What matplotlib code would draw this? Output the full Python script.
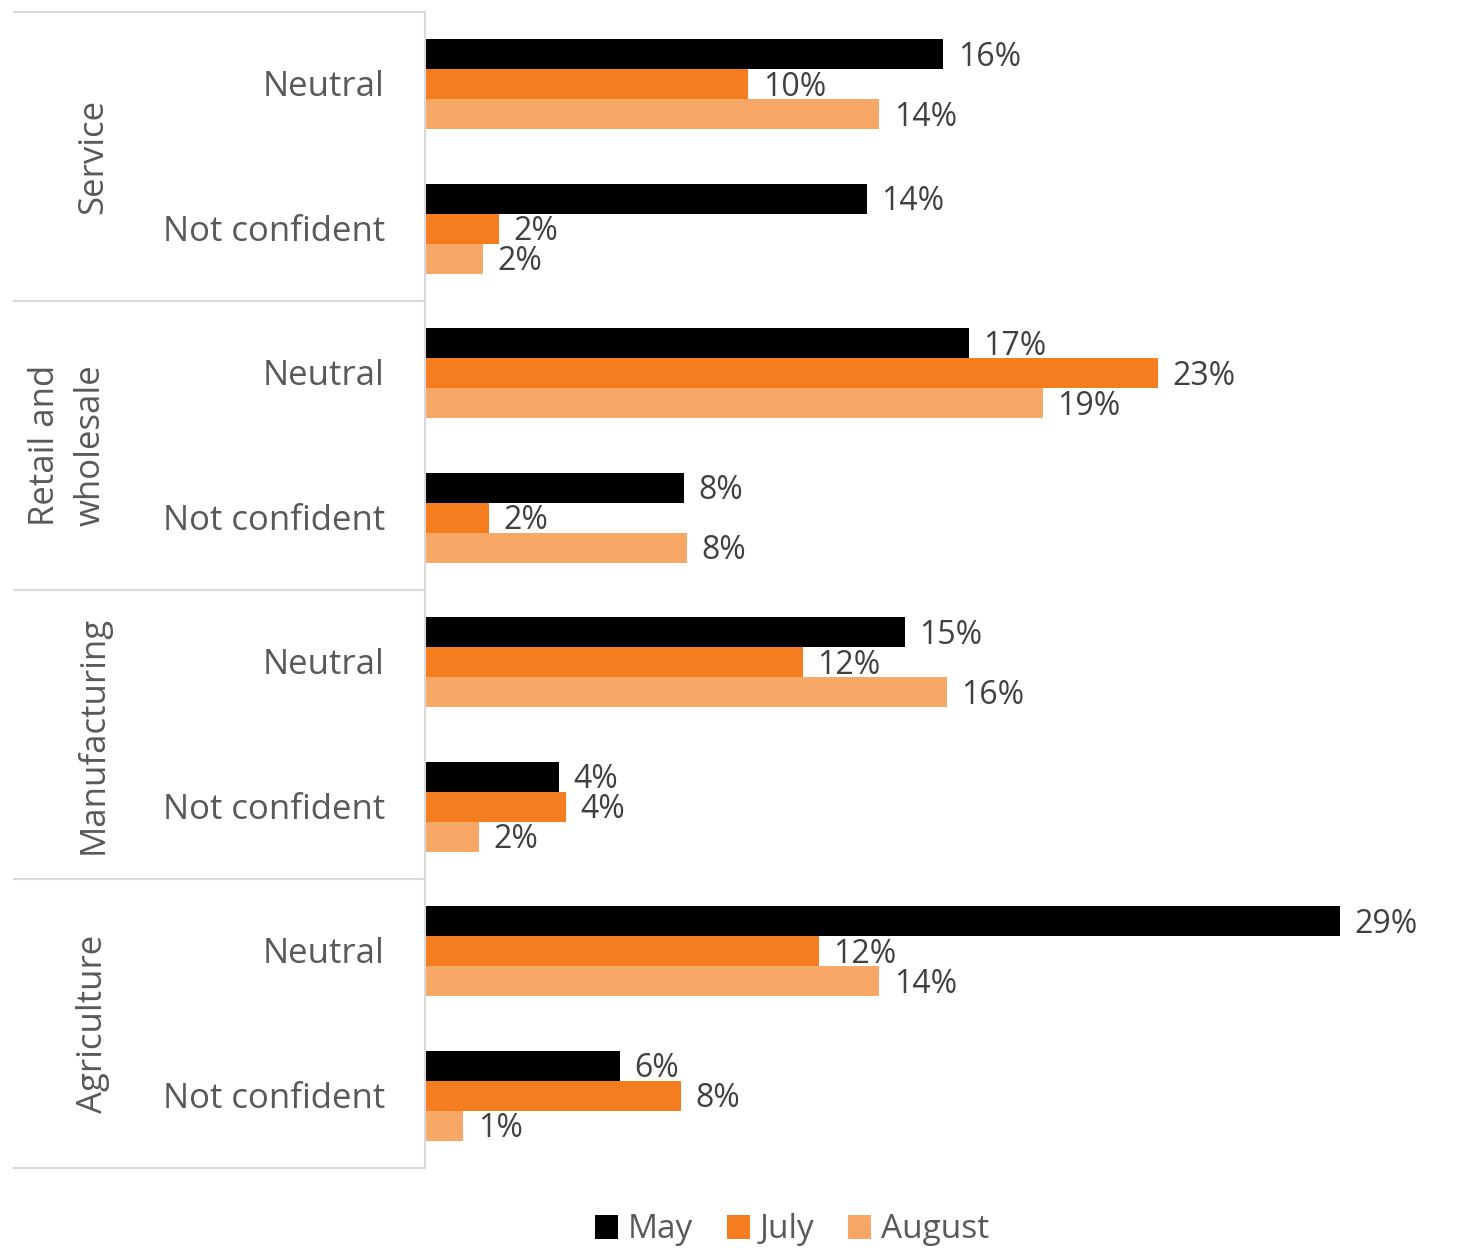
import numpy as np
import matplotlib.pyplot as plt
from matplotlib.lines import Line2D
from matplotlib.patches import Patch

plt.rcParams['font.family'] = ['Open Sans', 'DejaVu Sans']

groups = ['Service', 'Retail and\nwholesale', 'Manufacturing', 'Agriculture']
categories = ['Neutral', 'Not confident']
series = ['May', 'July', 'August']
colors = ['#000000', '#f47d20', '#f7a766']

# percent values, group by group (Neutral, Not confident)
may = [16.2, 13.8, 17.0, 8.1, 15.0, 4.2, 28.6, 6.1]
july = [10.1, 2.3, 22.9, 2.0, 11.8, 4.4, 12.3, 8.0]
august = [14.2, 1.8, 19.3, 8.2, 16.3, 1.7, 14.2, 1.2]
values = [may, july, august]

W, H = 1460, 1248
fig = plt.figure(figsize=(W / 100, H / 100), dpi=100)


def fx(px):
    return px / W


def fy(py):
    return 1 - py / H


top, bottom = 12, 1168
left, right = 425, 1460
ax = fig.add_axes([fx(left), fy(bottom), fx(right - left), (bottom - top) / H])
ax.set_xlim(0, (right - left) / 32.0)
n_rows = len(may)
ax.set_ylim(n_rows, 0)
ax.axis('off')

row_px = (bottom - top) / n_rows
bar_h = 30 / row_px
centers = np.arange(n_rows) + 0.5
for k, (vals, col) in enumerate(zip(values, colors)):
    ys = centers + (k - 1) * bar_h
    ax.barh(ys, vals, height=bar_h, color=col, edgecolor='none')
    for y, v in zip(ys, vals):
        ax.text(v + 0.45, y + 3 / row_px, '{:.0f}%'.format(v), va='center', ha='left',
                fontsize=23, color='#404040')

# left label panel
line_col = '#d9d9d9'
fig.add_artist(Line2D([fx(left), fx(left)], [fy(top), fy(bottom)], color=line_col, lw=1.5))
for g in range(len(groups) + 1):
    yy = top + g * 2 * row_px
    fig.add_artist(Line2D([fx(14), fx(left)], [fy(yy), fy(yy)], color=line_col, lw=1.5))

for i in range(n_rows):
    yy = top + (i + 0.5) * row_px + 3
    fig.text(fx(385), fy(yy), categories[i % 2], ha='right', va='center',
             fontsize=25, color='#595959')

for g, name in enumerate(groups):
    yy = top + (g * 2 + 1) * row_px
    xx = 93 if '\n' not in name else 68
    fig.text(fx(xx), fy(yy), name, ha='center', va='center', rotation=90,
             fontsize=25, color='#595959', linespacing=1.45)

handles = [Patch(facecolor=c, edgecolor='none') for c in colors]
fig.legend(handles, series, loc='center', bbox_to_anchor=(fx(792), fy(1230)),
           ncol=3, frameon=False, fontsize=24, labelcolor='#595959',
           handlelength=0.7, handleheight=0.7, handletextpad=0.3, columnspacing=1.0)

fig.savefig('out.png', dpi=100)
